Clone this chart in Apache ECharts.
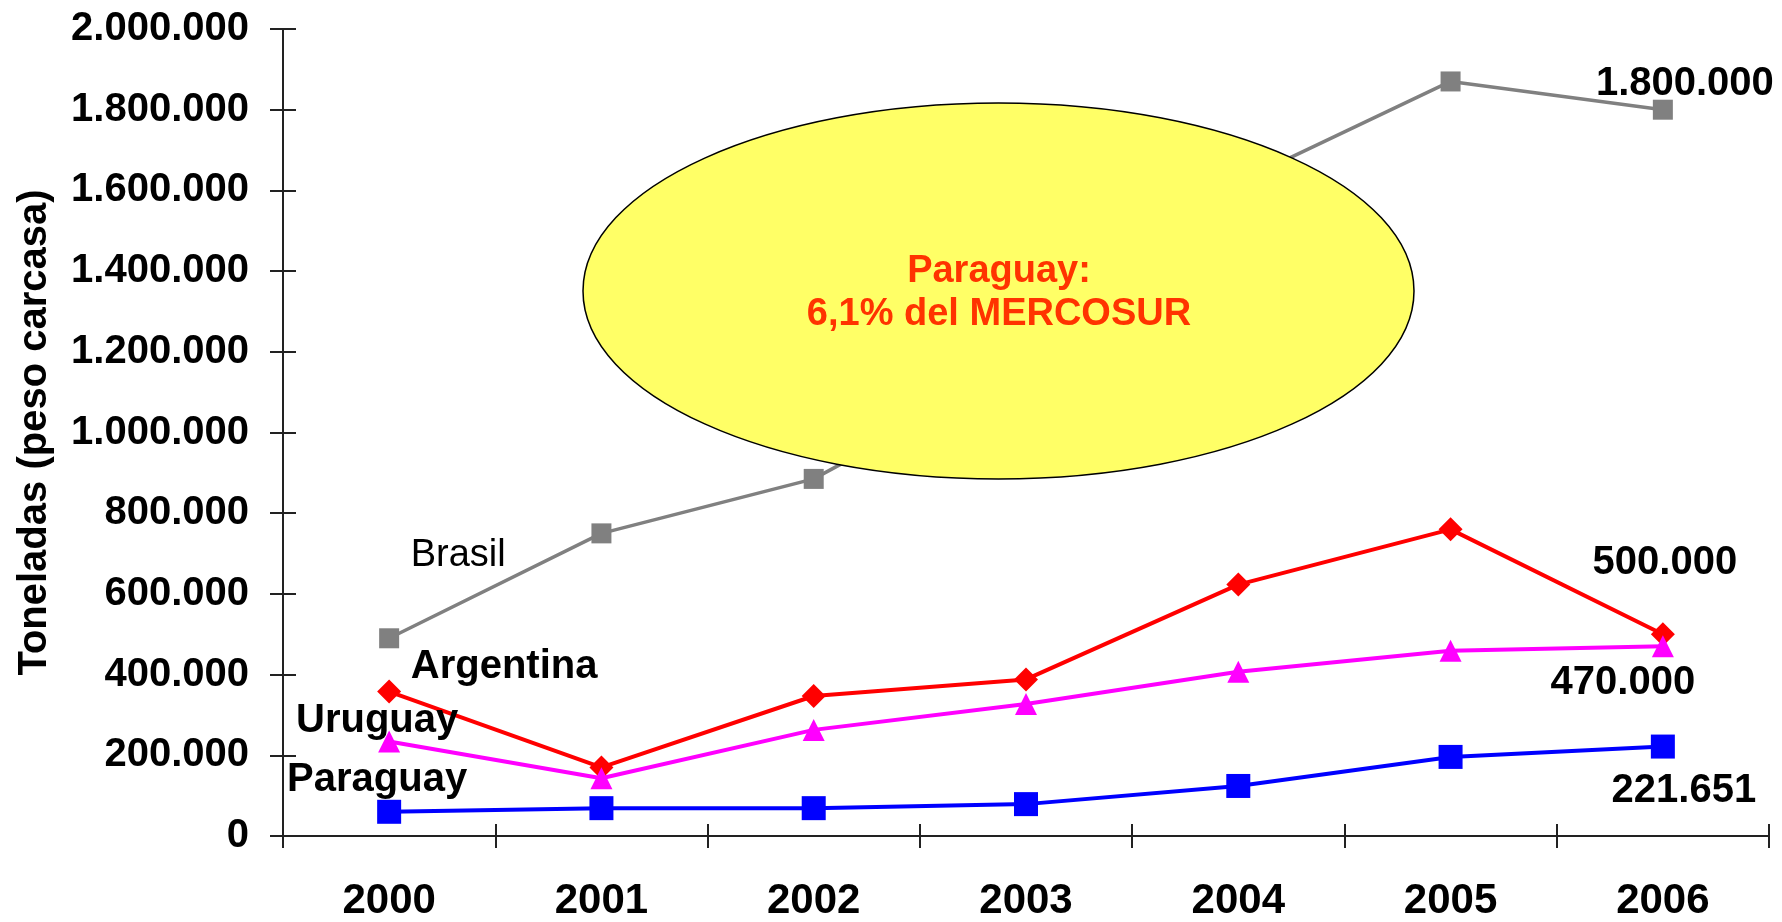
<!DOCTYPE html>
<html>
<head>
<meta charset="utf-8">
<script src="https://cdn.jsdelivr.net/npm/echarts@6/dist/echarts.min.js"></script>
<style>
html,body{margin:0;padding:0;background:#fff;}
#chart{width:1782px;height:922px;}
</style>
</head>
<body>
<div id="chart"></div>
<script>
const years = ['2000', '2001', '2002', '2003', '2004', '2005', '2006'];
const brasil = [490000, 750000, 885000, 1170000, 1620000, 1870000, 1800000];
const argentina = [358000, 170000, 347000, 388000, 623000, 760000, 500000];
const uruguay = [234000, 143000, 263000, 327000, 407000, 459000, 470000];
const paraguay = [60000, 69000, 69000, 79000, 124000, 196000, 221651];
const yMin = 0, yMax = 2000000, yStep = 200000;
const yTitle = 'Toneladas (peso carcasa)';
const noteLines = ['Paraguay:', '6,1% del MERCOSUR'];

const FONT = '"Liberation Sans", Arial, sans-serif';
function fmt(v) { return String(v).replace(/\B(?=(\d{3})+(?!\d))/g, '.'); }

function withLabels(values, name, nameOffset, nameWeight, nameSize, valueOffset) {
  return values.map(function (v, i) {
    if (i === 0) {
      return { value: v, label: { show: true, formatter: name, offset: nameOffset, fontWeight: nameWeight, fontSize: nameSize } };
    }
    if (i === values.length - 1) {
      return { value: v, label: { show: true, formatter: fmt(v), offset: valueOffset, fontWeight: 'bold' } };
    }
    return v;
  });
}

const baseLabel = {
  show: false, position: 'inside', color: '#000', fontSize: 40,
  fontFamily: FONT, fontWeight: 'bold', align: 'center', verticalAlign: 'middle'
};

function mkSeries(name, values, color, width, symbol, size, labelName, nameOffset, nameWeight, nameSize, valueOffset) {
  return {
    name: name, type: 'line', data: withLabels(values, labelName, nameOffset, nameWeight, nameSize, valueOffset),
    symbol: symbol, symbolSize: size, showSymbol: true,
    lineStyle: { color: color, width: width },
    itemStyle: { color: color },
    label: baseLabel,
    emphasis: { disabled: true },
    z: 3
  };
}

const chart = echarts.init(document.getElementById('chart'), null, { renderer: 'canvas' });
const axisColor = '#222';
chart.setOption({
  animation: false,
  backgroundColor: '#fff',
  grid: { left: 283, right: 13, top: 29, bottom: 84 },
  xAxis: [{
    type: 'category', data: years, boundaryGap: true, position: 'bottom',
    axisLine: { show: true, onZero: false, lineStyle: { color: axisColor, width: 2 } },
    axisTick: { show: true, length: 12, inside: false, alignWithLabel: false, lineStyle: { color: axisColor, width: 2 } },
    axisLabel: { show: true, margin: 46, color: '#000', fontSize: 42, lineHeight: 38, fontWeight: 'bold', fontFamily: FONT },
    splitLine: { show: false }
  }, {
    type: 'category', data: years, boundaryGap: true, position: 'bottom', offset: 0,
    axisLine: { show: false, onZero: false },
    axisTick: { show: true, length: 12, inside: true, lineStyle: { color: axisColor, width: 2 } },
    axisLabel: { show: false },
    splitLine: { show: false }
  }],
  yAxis: [{
    type: 'value', min: yMin, max: yMax, interval: yStep, position: 'left',
    name: yTitle, nameLocation: 'middle', nameGap: 228, nameRotate: 90,
    nameTextStyle: { color: '#000', fontSize: 40, fontWeight: 'bold', fontFamily: FONT },
    axisLine: { show: true, onZero: false, lineStyle: { color: axisColor, width: 2 } },
    axisTick: { show: true, length: 13, inside: false, lineStyle: { color: axisColor, width: 2 } },
    axisLabel: { margin: 34, color: '#000', fontSize: 40, fontWeight: 'bold', fontFamily: FONT, formatter: function (v) { return fmt(v); } },
    splitLine: { show: false }
  }, {
    type: 'value', min: yMin, max: yMax, interval: yStep, position: 'left', offset: 0,
    axisLine: { show: false, onZero: false },
    axisTick: { show: true, length: 13, inside: true, lineStyle: { color: axisColor, width: 2 } },
    axisLabel: { show: false },
    splitLine: { show: false }
  }],
  series: [
    mkSeries('Brasil', brasil, '#808080', 3.5, 'rect', 20, 'Brasil', [69, -83], 'normal', 38, [22, -26]),
    mkSeries('Argentina', argentina, '#FF0000', 4, 'diamond', 24, 'Argentina', [115, -25], 'bold', 40, [2, -71]),
    mkSeries('Uruguay', uruguay, '#FF00FF', 4, 'triangle', 22, 'Uruguay', [-12, -21], 'bold', 40, [-40, 37]),
    mkSeries('Paraguay', paraguay, '#0000FF', 4, 'rect', 24, 'Paraguay', [-12, -32], 'bold', 40, [21, 44])
  ],
  graphic: [{
    type: 'ellipse', z: 100,
    shape: { cx: 998.5, cy: 291, rx: 415.5, ry: 188 },
    style: { fill: '#FFFF66', stroke: '#000', lineWidth: 1.5 }
  }, {
    type: 'text', z: 101, x: 999, y: 293.5,
    style: {
      text: noteLines.join('\n'), fill: '#FF3300', font: 'bold 38px ' + FONT,
      align: 'center', verticalAlign: 'middle', lineHeight: 43
    }
  }]
});
</script>
</body>
</html>
